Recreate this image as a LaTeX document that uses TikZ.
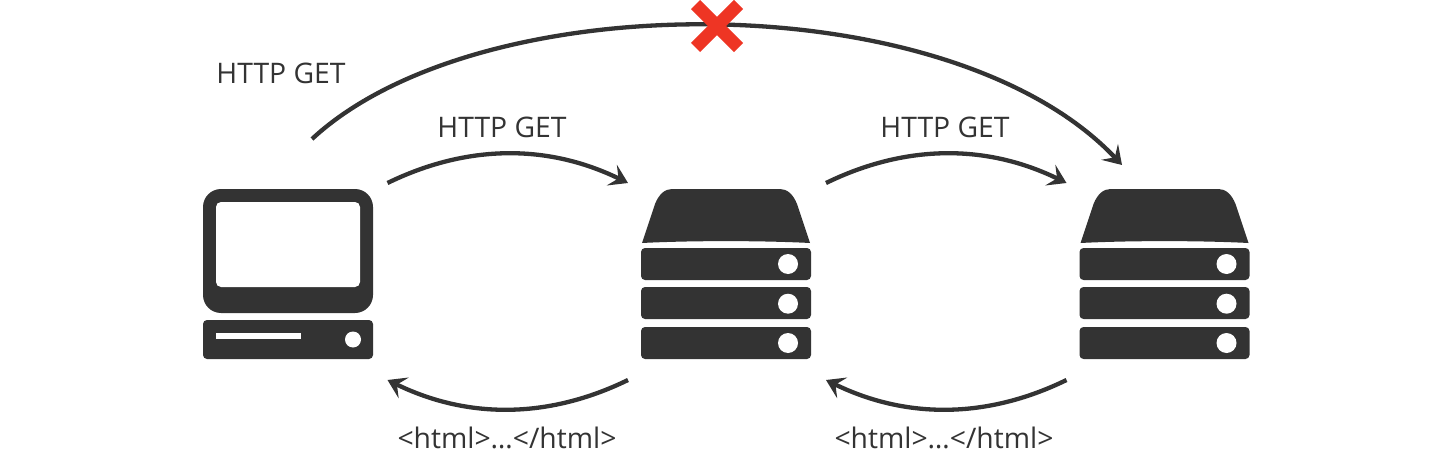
\documentclass[tikz,border=0pt]{standalone}
\usepackage{fontspec}
\setmainfont{Open Sans}
\usetikzlibrary{arrows.meta,shapes.misc}
\definecolor{icon}{RGB}{51,51,51}
\definecolor{cross}{RGB}{238,53,36}
\tikzset{%
  iconbox/.style={minimum width=198pt, minimum height=197pt, inner sep=0, outer sep=0},% anchors for the arcs
  hole/.style={fill=white},% cut-outs in the icons
  request/.style={line width=4.3pt, draw=icon, -{Stealth[length=18pt,width=23pt,inset=7.5pt]}},
  label/.style={text=icon, font=\fontsize{28.3}{32}\selectfont, inner sep=0},
  failed/.style={cross out, draw=cross, line width=13pt, minimum size=43pt, inner sep=0, outer sep=0}
}
\newcommand*{\desktop}[3]{
\begin{scope}[shift={(#2,#3)}]
  \node[iconbox] (#1) at (85.5,92.5) {};
  \fill[icon, rounded corners=18pt] (0,0) rectangle (170,124);
  \fill[hole, rounded corners=5pt] (13,13) rectangle (157,98);
  \fill[icon, rounded corners=4pt] (0,131) rectangle (170,170);
  \fill[hole] (13,144) rectangle (98,150);
  \fill[hole] (150,150.5) circle (8);
\end{scope}}
\newcommand*{\server}[3]{
\begin{scope}[shift={(#2,#3)}]
  \node[iconbox] (#1) at (86,92.5) {};
  \fill[icon] (1,54) -- (14,15) .. controls (18,5) and (24,0) .. (31,0) -- (139,0)
    .. controls (146,0) and (152,5) .. (156,15) -- (169,54)
    .. controls (120,51.5) and (50,51.5) .. (1,54) -- cycle;
  \foreach \top/\mid in {59/75, 98/114.7, 138/154}{
    \fill[icon, rounded corners=4pt] (0,\top) rectangle (170,\top+32);
    \fill[hole] (147,\mid) circle (10);
  }
\end{scope}}

\begin{document}
\begin{tikzpicture}[x=1pt,y=-1pt]
\useasboundingbox (0,0) rectangle (1452,460);
\desktop{client}{203}{189}
\server{first}{641}{189}
\server{second}{1079.5}{189}
\coordinate (farstart) at (312,139);
\coordinate (farend) at (1122,165);
\draw[request] (client.north east) .. controls +(80,-39) and +(-80,-39) .. (first.north west);
\draw[request] (first.north east) .. controls +(80,-39) and +(-80,-39) .. (second.north west);
\draw[request] (first.south west) .. controls +(-80,39) and +(80,39) .. (client.south east);
\draw[request] (second.south west) .. controls +(-80,39) and +(80,39) .. (first.south east);
\draw[request] (farstart) .. controls (480,-17) and (950,-17) .. (farend);
\node[failed] (stop) at (717,26) {};
\node[label] (farget) at (281,73) {HTTP GET};
\node[label] (getone) at (502,127) {HTTP GET};
\node[label] (gettwo) at (945,127) {HTTP GET};
\node[label] (htmlone) at (507,438) {<html>…</html>};
\node[label] (htmltwo) at (944,438) {<html>…</html>};
\end{tikzpicture}
\end{document}
